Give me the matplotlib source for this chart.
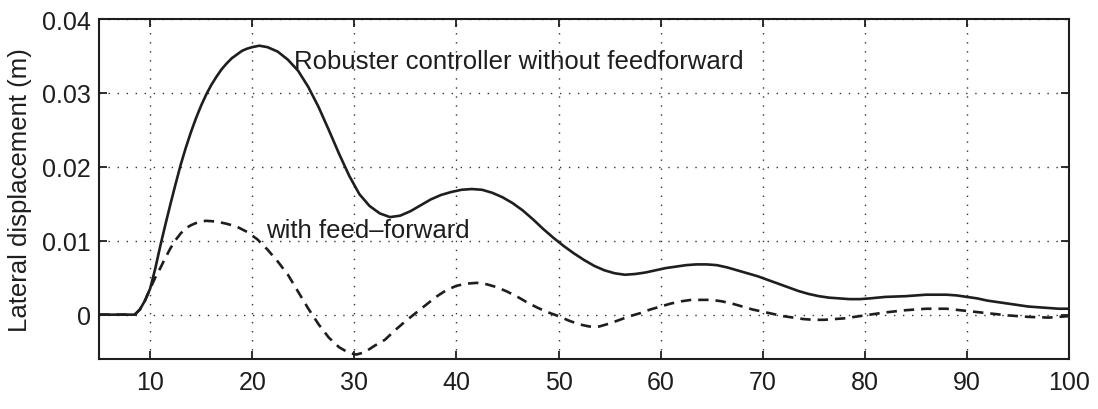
import matplotlib
matplotlib.use("Agg")
import matplotlib.pyplot as plt

plt.rcParams['font.family'] = ['Liberation Sans', 'DejaVu Sans']
plt.rcParams['lines.scale_dashes'] = False

# Time axis (s) and lateral displacement (m) for both controllers
t_robust = [5, 8.5, 9, 9.5, 10, 10.5, 11, 11.5, 12, 12.5, 13, 13.5, 14, 14.5,
            15, 15.5, 16, 16.5, 17, 17.5, 18, 18.5, 19, 19.5, 20, 20.7, 21.5,
            22.5, 23.5, 24.5, 25.5, 26.5, 27.5, 28.5, 29.5, 30.5, 31.5, 32.5,
            33.5, 34.5, 35.5, 36.5, 37.5, 38.5, 39.5, 40.5, 41.5, 42.5, 43.5,
            44.5, 45.5, 46.5, 47.5, 48.5, 49.5, 50.5, 51.5, 52.5, 53.5, 54.5,
            55.5, 56.5, 57.5, 58.5, 59.5, 60.5, 61.5, 62.5, 63.5, 64.5, 65.5,
            66.5, 67.5, 68.5, 69.5, 70.5, 71.5, 72.5, 73.5, 74.5, 75.5, 76.5,
            77.5, 78.5, 79.5, 80.5, 82, 84, 86, 87, 88, 89, 90, 91, 92, 93,
            94, 95, 96, 97, 98, 99, 100]
y_robust = [0, 0, 0.0007, 0.0019, 0.0035, 0.0062, 0.0093, 0.0122, 0.0150,
            0.0177, 0.0203, 0.0226, 0.0247, 0.0266, 0.0283, 0.0298, 0.0311,
            0.0322, 0.0332, 0.0340, 0.0347, 0.0352, 0.0357, 0.0360, 0.0362,
            0.0364, 0.0362, 0.0356, 0.0345, 0.0330, 0.0308, 0.0281, 0.0250,
            0.0218, 0.0188, 0.0163, 0.0147, 0.0137, 0.0132, 0.0134, 0.0140,
            0.0148, 0.0156, 0.0162, 0.0166, 0.0169, 0.0170, 0.0169, 0.0165,
            0.0159, 0.0151, 0.0141, 0.0129, 0.0116, 0.0104, 0.0093, 0.0083,
            0.0074, 0.0066, 0.0060, 0.0056, 0.0054, 0.0055, 0.0057, 0.0060,
            0.0063, 0.0065, 0.0067, 0.0068, 0.0068, 0.0067, 0.0064, 0.0060,
            0.0056, 0.0052, 0.0047, 0.0042, 0.0037, 0.0032, 0.0028, 0.0025,
            0.0023, 0.0022, 0.0021, 0.0021, 0.0022, 0.0024, 0.0025, 0.0027,
            0.0027, 0.0027, 0.0026, 0.0024, 0.0022, 0.0019, 0.0017, 0.0015,
            0.0013, 0.0011, 0.0010, 0.0009, 0.0008, 0.0008]

t_ff = [5, 8.5, 9, 9.5, 10, 10.5, 11, 11.5, 12, 12.5, 13, 13.5, 14, 14.5, 15,
        15.5, 16.5, 17.5, 18.5, 19.5, 20.5, 21.5, 22.5, 23.5, 24.5, 25.5,
        26.5, 27.5, 28.5, 29.5, 30.2, 31, 32, 33, 34, 35, 36, 37, 38, 39, 40,
        41, 42, 43, 44, 45, 46, 47, 48, 49, 50, 51, 52, 53, 54, 55, 56, 57,
        58, 59, 60, 61, 62, 63, 64, 65, 66, 67, 68, 69, 70, 71, 72, 73, 74,
        75, 76, 77, 78, 79, 80, 82, 84, 86, 88, 90, 92, 94, 96, 98, 100]
y_ff = [0, 0, 0.0007, 0.0019, 0.0035, 0.0050, 0.0063, 0.0077, 0.0090, 0.0101,
        0.0110, 0.0117, 0.0121, 0.0124, 0.0126, 0.0127, 0.0126, 0.0123,
        0.0119, 0.0112, 0.0102, 0.0088, 0.0072, 0.0054, 0.0031, 0.0008,
        -0.0013, -0.0031, -0.0044, -0.0052, -0.0054, -0.0051, -0.0042,
        -0.0034, -0.0021, -0.0009, 0.0002, 0.0013, 0.0024, 0.0033, 0.0039,
        0.0042, 0.0043, 0.0041, 0.0037, 0.0031, 0.0024, 0.0016, 0.0009,
        0.0003, -0.0002, -0.0008, -0.0013, -0.0016, -0.0016, -0.0012,
        -0.0007, -0.0002, 0.0002, 0.0007, 0.0011, 0.0015, 0.0018, 0.0020,
        0.0020, 0.0020, 0.0018, 0.0015, 0.0011, 0.0007, 0.0004, 0.0001,
        -0.0002, -0.0004, -0.0006, -0.0007, -0.0007, -0.0006, -0.0005,
        -0.0003, -0.0001, 0.0003, 0.0006, 0.0008, 0.0008, 0.0005, 0.0002,
        -0.0001, -0.0003, -0.0004, -0.0002]

x_ticks = [10, 20, 30, 40, 50, 60, 70, 80, 90, 100]
y_ticks = [0, 0.01, 0.02, 0.03, 0.04]
y_ticklabels = ['0', '0.01', '0.02', '0.03', '0.04']

fig = plt.figure(figsize=(10.98, 4.10), dpi=100)
ax = fig.add_axes([0.0902, 0.122, 0.8834, 0.829])

ax.plot(t_robust, y_robust, color='#1e1e1e', lw=1.9)
ax.plot(t_ff, y_ff, color='#1e1e1e', lw=1.9, linestyle=(0, (7.5, 5)))

ax.set_xlim(5, 100)
ax.set_ylim(-0.006, 0.04)
ax.set_xticks(x_ticks)
ax.set_yticks(y_ticks)
ax.set_yticklabels(y_ticklabels)

ax.grid(True, color='#333333', linestyle=(0, (1, 5.5)), linewidth=1.0)
ax.tick_params(direction='in', length=6, width=1.3, top=True, right=True,
               labelsize=18, colors='#1e1e1e')
ax.tick_params(axis='x', pad=8)
ax.tick_params(axis='y', pad=6)
for s in ax.spines.values():
    s.set_linewidth(1.5)
    s.set_color('#1e1e1e')

ax.set_ylabel('Lateral displacement (m)', fontsize=18.5, color='#1e1e1e',
              labelpad=7)

ax.text(24.1, 0.0343, 'Robuster controller without feedforward',
        fontsize=18.5, color='#1e1e1e', va='center', ha='left')
ax.text(21.4, 0.0114, 'with feed\u2013forward',
        fontsize=18.5, color='#1e1e1e', va='center', ha='left')

fig.savefig('out.png', dpi=100)
